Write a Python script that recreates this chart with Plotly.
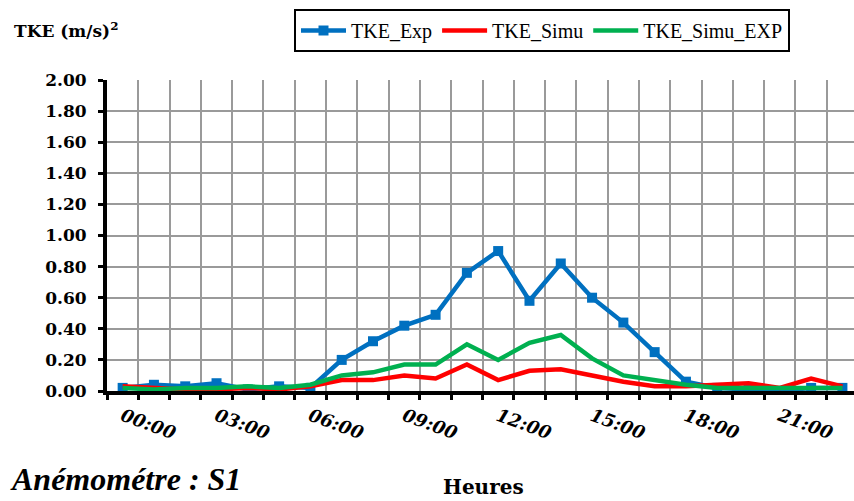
import plotly.graph_objects as go

hours = list(range(24))
tick_hours = [0, 3, 6, 9, 12, 15, 18, 21]
tick_labels = ["00:00", "03:00", "06:00", "09:00", "12:00", "15:00", "18:00", "21:00"]

tke_exp = [0.02, 0.04, 0.03, 0.05, 0.01, 0.03, 0.02, 0.20, 0.32, 0.42, 0.49, 0.76,
           0.90, 0.58, 0.82, 0.60, 0.44, 0.25, 0.06, 0.02, 0.01, 0.00, 0.02, 0.02]
tke_simu = [0.03, 0.02, 0.01, 0.01, 0.02, 0.01, 0.03, 0.07, 0.07, 0.10, 0.08, 0.17,
            0.07, 0.13, 0.14, 0.10, 0.06, 0.03, 0.03, 0.04, 0.05, 0.02, 0.08, 0.03]
tke_simu_exp = [0.02, 0.01, 0.02, 0.02, 0.03, 0.02, 0.04, 0.10, 0.12, 0.17, 0.17, 0.30,
                0.20, 0.31, 0.36, 0.21, 0.10, 0.07, 0.04, 0.02, 0.02, 0.02, 0.02, 0.02]

W, H = 854, 501
L, R, T, B = 107, 854, 80, 391

def px(x):
    return (x - L) / (R - L)

def py(y):
    return (B - y) / (B - T)

fig = go.Figure()
fig.add_trace(go.Scatter(x=hours, y=tke_exp, name="TKE_Exp", mode="lines+markers",
                         line=dict(color="#0070C0", width=4.5),
                         marker=dict(symbol="square", size=10, color="#0070C0")))
fig.add_trace(go.Scatter(x=hours, y=tke_simu, name="TKE_Simu", mode="lines",
                         line=dict(color="#FF0000", width=4.5)))
fig.add_trace(go.Scatter(x=hours, y=tke_simu_exp, name="TKE_Simu_EXP", mode="lines",
                         line=dict(color="#00B050", width=4.5)))

serif = "DejaVu Serif"

fig.update_layout(
    width=W, height=H,
    margin=dict(l=L, r=W - R, t=T, b=H - B, pad=0, autoexpand=False),
    paper_bgcolor="white", plot_bgcolor="white",
    showlegend=True,
    legend=dict(orientation="h", x=px(294), y=py(9), xanchor="left", yanchor="top",
                bordercolor="black", borderwidth=2,
                font=dict(family="Liberation Serif", size=20, color="black"),
                itemwidth=45, tracegroupgap=0),
    xaxis=dict(range=[-0.5, 23.37], tickmode="array", tickvals=tick_hours, ticktext=tick_labels,
               ticks="", showgrid=False, zeroline=False,
               showline=True, linecolor="black", linewidth=4,
               tickangle=20, ticklabelstandoff=4,
               tickfont=dict(family=serif, size=18, color="black", weight="bold", style="italic"),
               minor=dict(tick0=-0.5, dtick=1, ticks="outside", ticklen=5, tickwidth=3,
                          tickcolor="black", showgrid=True, gridcolor="#9a9a9a", gridwidth=2)),
    yaxis=dict(range=[0, 2.0], dtick=0.2, tickformat=".2f",
               ticks="outside", ticklen=5, tickwidth=3, tickcolor="black",
               showgrid=True, gridcolor="#9a9a9a", gridwidth=2, zeroline=False,
               showline=True, linecolor="black", linewidth=4,
               ticklabelstandoff=8,
               tickfont=dict(family=serif, size=17, color="black", weight="bold")),
    annotations=[
        dict(text="TKE (m/s)<sup>2</sup>", xref="paper", yref="paper", x=px(12), y=py(30),
             xanchor="left", yanchor="middle", showarrow=False,
             font=dict(family=serif, size=17, color="black", weight="bold")),
        dict(text="Anémométre : S1", xref="paper", yref="paper", x=px(8), y=py(479),
             xanchor="left", yanchor="middle", showarrow=False,
             font=dict(family="Liberation Serif", size=32, color="black", weight="bold",
                       style="italic")),
        dict(text="Heures", xref="paper", yref="paper", x=px(484), y=py(487),
             xanchor="center", yanchor="middle", showarrow=False,
             font=dict(family=serif, size=20, color="black", weight="bold")),
    ],
)

fig.write_html("out.html", config={"displayModeBar": False},
               post_script="document.body.style.margin='0';document.body.style.overflow='hidden';")
